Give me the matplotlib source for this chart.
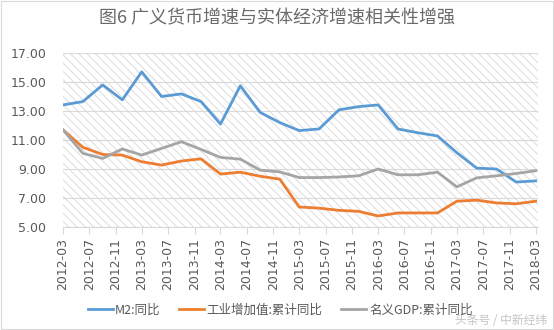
import matplotlib.pyplot as plt
import pandas as pd

plt.rcParams['font.family'] = ['DejaVu Sans', 'Noto Sans CJK SC']
plt.rcParams['hatch.color'] = '#dcdcdc'
plt.rcParams['hatch.linewidth'] = 0.7

# Quarterly data, 2012-03 .. 2018-03
quarters = pd.date_range('2012-03-01', '2018-03-01', freq='3MS')
m2 = [13.42, 13.65, 14.8, 13.77, 15.7, 14.0, 14.18, 13.65, 12.1, 14.74, 12.9, 12.2,
      11.65, 11.76, 13.08, 13.3, 13.42, 11.76, 11.5, 11.28, 10.12, 9.06, 9.0, 8.1, 8.18]
industry = [11.7, 10.5, 10.0, 9.96, 9.5, 9.27, 9.55, 9.7, 8.65, 8.78, 8.5, 8.3,
            6.38, 6.3, 6.15, 6.08, 5.76, 5.97, 5.97, 5.97, 6.78, 6.85, 6.66, 6.6, 6.78]
gdp = [11.7, 10.08, 9.73, 10.38, 9.96, 10.42, 10.88, 10.35, 9.8, 9.68, 8.92, 8.8,
       8.41, 8.41, 8.45, 8.53, 9.0, 8.6, 8.6, 8.78, 7.77, 8.39, 8.53, 8.69, 8.88]
labels = ['M2:同比', '工业增加值:累计同比', '名义GDP:累计同比']
colors = ['#5B9BD5', '#ED7D31', '#A5A5A5']
tick_dates = pd.date_range('2012-03-01', '2018-03-01', freq='4MS')

fig = plt.figure(figsize=(5.54, 3.30), dpi=100)
ax = fig.add_axes([63 / 554, 1 - 227 / 330, 475 / 554, 174 / 330])
ax.patch.set_hatch('\\' * 4)
ax.patch.set_edgecolor('#dcdcdc')
ax.patch.set_linewidth(0)

for series, lab, col in zip([m2, industry, gdp], labels, colors):
    ax.plot(quarters, series, color=col, lw=2, label=lab, solid_joinstyle='round')

ax.set_ylim(5, 17)
ax.set_yticks(range(5, 18, 2))
ax.yaxis.set_major_formatter(plt.FuncFormatter(lambda v, p: f'{v:.2f}'))
ax.set_xlim(pd.Timestamp('2012-03-01'), pd.Timestamp('2018-03-12'))
ax.set_xticks(tick_dates)
ax.set_xticklabels([d.strftime('%Y-%m') for d in tick_dates], rotation=90)
ax.grid(axis='y', color='#d9d9d9', lw=0.8)
ax.set_axisbelow(True)
for s in ['left', 'right', 'top']:
    ax.spines[s].set_visible(False)
ax.spines['bottom'].set_color('#d9d9d9')
ax.tick_params(axis='y', length=0, labelsize=9, labelcolor='#595959', pad=12)
ax.tick_params(axis='x', length=5, color='#d9d9d9', labelsize=9, labelcolor='#595959', pad=3)

fig.text(277 / 554, 1 - 18 / 330, '图6 广义货币增速与实体经济增速相关性增强',
         ha='center', va='center', fontsize=13, color='#6a6a6a',
         family=['Noto Sans CJK SC', 'DejaVu Sans'])

leg = fig.legend(loc='center', bbox_to_anchor=(280 / 554, 1 - 310 / 330), ncol=3,
                 frameon=False, handlelength=2.0, columnspacing=1.5, handletextpad=0.2,
                 prop={'family': ['Noto Sans CJK SC'], 'size': 9})
for t in leg.get_texts():
    t.set_color('#595959')

fig.text(547 / 554, 1 - 320 / 330, '头条号 / 中新经纬', ha='right', va='center',
         fontsize=8.5, color='#c4c4c4', family=['Noto Sans CJK SC'])

fig.add_artist(plt.Rectangle((0.001, 0.002), 0.997, 0.995, transform=fig.transFigure,
                             fill=False, edgecolor='#d9d9d9', lw=0.8))

fig.savefig('out.png', dpi=100)
